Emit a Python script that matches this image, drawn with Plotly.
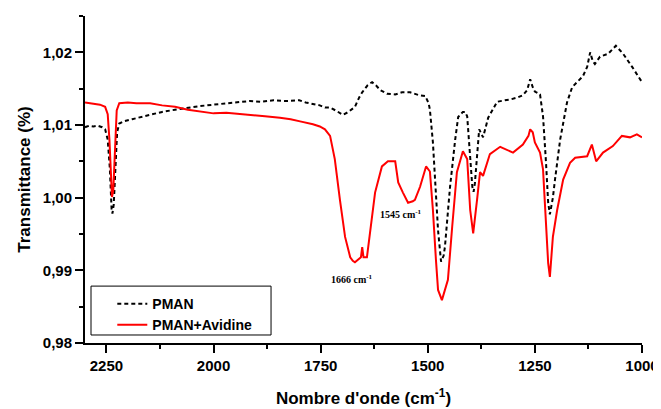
import plotly.graph_objects as go

# PMAN (black dashed)
pman_wn = [2300, 2290, 2280, 2270, 2260, 2253, 2247, 2242, 2238, 2236, 2233, 2229, 2225, 2220,
           2210, 2190, 2170, 2148, 2120, 2090, 2060, 2032, 2000, 1970, 1940, 1915, 1890, 1860,
           1830, 1800, 1785, 1770, 1752, 1740, 1728, 1715, 1698, 1685, 1670, 1660, 1653, 1640,
           1630, 1620, 1611, 1595, 1576, 1560, 1541, 1520, 1506, 1498, 1495, 1488, 1481, 1476,
           1469, 1463, 1460, 1448, 1436, 1429, 1418, 1413, 1408, 1404, 1401, 1396, 1393, 1390,
           1385, 1380, 1375, 1371, 1359, 1345, 1338, 1320, 1308, 1290, 1278, 1268, 1261, 1255,
           1250, 1238, 1231, 1224, 1219, 1215, 1208, 1203, 1191, 1175, 1163, 1150, 1138, 1128,
           1121, 1115, 1110, 1098, 1079, 1061, 1044, 1023, 1000]
pman_t = [1.0097, 1.0099, 1.0098, 1.0099, 1.0097, 1.0094, 1.0080, 1.0040, 0.9985, 0.9978, 0.9990,
          1.0045, 1.0090, 1.0102, 1.0105, 1.0108, 1.0111, 1.0114, 1.0118, 1.0121, 1.0124, 1.0126,
          1.0128, 1.0130, 1.0132, 1.0133, 1.0132, 1.0134, 1.0133, 1.0134, 1.0131, 1.0129, 1.0127,
          1.0124, 1.0124, 1.0120, 1.0114, 1.0118, 1.0125, 1.0138, 1.0145, 1.0155, 1.0159, 1.0154,
          1.0148, 1.0143, 1.0142, 1.0145, 1.0145, 1.0141, 1.0140, 1.0130, 1.0121, 1.0076, 1.0010,
          0.9955, 0.9912, 0.9920, 0.9932, 1.0015, 1.0080, 1.0111, 1.0118, 1.0118, 1.0112, 1.0080,
          1.0053, 1.0015, 1.0008, 1.0020, 1.0057, 1.0094, 1.0088, 1.0083, 1.0110, 1.0125, 1.0132,
          1.0134, 1.0135, 1.0138, 1.0141, 1.0148, 1.0163, 1.0152, 1.0146, 1.0142, 1.0112, 1.0048,
          0.9993, 0.9977, 1.0000, 1.0025, 1.0080, 1.0131, 1.0152, 1.0160, 1.0167, 1.0180, 1.0200,
          1.0188, 1.0184, 1.0194, 1.0198, 1.0209, 1.0198, 1.0180, 1.0159]

# PMAN+Avidine (red)
avid_wn = [2300, 2290, 2275, 2265, 2253, 2247, 2243, 2240, 2237, 2234, 2230, 2226, 2220, 2200,
           2180, 2148, 2120, 2090, 2060, 2032, 2000, 1970, 1940, 1915, 1880, 1845, 1820, 1798,
           1780, 1768, 1752, 1740, 1728, 1717, 1705, 1693, 1681, 1675, 1670, 1662, 1656, 1653,
           1650, 1642, 1635, 1623, 1607, 1593, 1576, 1569, 1558, 1546, 1535, 1530, 1518, 1504,
           1495, 1488, 1481, 1476, 1467, 1460, 1453, 1443, 1432, 1418, 1408, 1401, 1394, 1385,
           1378, 1371, 1355, 1331, 1301, 1278, 1265, 1261, 1255, 1250, 1238, 1231, 1224, 1219,
           1215, 1208, 1198, 1184, 1168, 1156, 1128, 1117, 1107, 1091, 1068, 1047, 1028, 1012, 1000]
avid_t = [1.0131, 1.0130, 1.0129, 1.0128, 1.0125, 1.0115, 1.0080, 1.0030, 1.0001, 1.0010, 1.0070,
          1.0120, 1.0130, 1.0131, 1.0130, 1.0130, 1.0127, 1.0125, 1.0121, 1.0119, 1.0116, 1.0117,
          1.0115, 1.0114, 1.0112, 1.0110, 1.0108, 1.0105, 1.0103, 1.0101, 1.0098, 1.0094, 1.0085,
          1.0053, 0.9997, 0.9946, 0.9918, 0.9913, 0.9911, 0.9915, 0.9918, 0.9932, 0.9918, 0.9918,
          0.9951, 1.0007, 1.0043, 1.0050, 1.0050, 1.0021, 1.0007, 0.9993, 0.9995, 0.9997, 1.0015,
          1.0043, 1.0036, 0.9983, 0.9915, 0.9873, 0.9859, 0.9873, 0.9887, 0.9960, 1.0035, 1.0064,
          1.0053, 0.9983, 0.9951, 0.9997, 1.0035, 1.0030, 1.0060, 1.0070, 1.0062, 1.0073, 1.0085,
          1.0094, 1.0090, 1.0076, 1.0062, 1.0039, 0.9966, 0.9910, 0.9891, 0.9946, 0.9983, 1.0025,
          1.0048, 1.0055, 1.0057, 1.0073, 1.0050, 1.0062, 1.0071, 1.0085, 1.0083, 1.0087, 1.0083]

x_ticks = [2250, 2000, 1750, 1500, 1250, 1000]
y_ticks = [0.98, 0.99, 1.00, 1.01, 1.02]
y_tick_text = ["0,98", "0,99", "1,00", "1,01", "1,02"]

peak_labels = ["1666 cm<sup>-1</sup>", "1545 cm<sup>-1</sup>"]
peak_x = [1677, 1562]
peak_y = [0.9888, 0.9977]

bold_sans = dict(family="Liberation Sans, Arial, sans-serif", weight="bold", color="black")

fig = go.Figure()
fig.add_trace(go.Scatter(x=pman_wn, y=pman_t, mode="lines", name="PMAN",
                         line=dict(color="black", width=2, dash="4px,3px")))
fig.add_trace(go.Scatter(x=avid_wn, y=avid_t, mode="lines", name="PMAN+Avidine",
                         line=dict(color="#ff0000", width=2)))

for t, xx, yy in zip(peak_labels, peak_x, peak_y):
    fig.add_annotation(x=xx, y=yy, text=t, showarrow=False,
                       font=dict(family="Liberation Serif, Times New Roman, serif", size=10,
                                 weight="bold", color="black"))

# legend frame
fig.add_shape(type="rect", xref="paper", yref="paper", x0=0.0108, x1=0.334, y0=0.0245, y1=0.174,
              line=dict(color="black", width=1), fillcolor="rgba(0,0,0,0)", layer="below")

# the page adds an 8px body margin, so the figure is 8px smaller and margins shifted
fig.update_layout(
    width=653, height=401,
    margin=dict(l=77, r=19, t=8, b=66, autoexpand=False),
    paper_bgcolor="white", plot_bgcolor="white",
    showlegend=True,
    legend=dict(x=0.049, y=0.168, xanchor="left", yanchor="top",
                bgcolor="rgba(0,0,0,0)", borderwidth=0,
                font=dict(size=14, **bold_sans)),
    xaxis=dict(range=[2300, 1000], tickvals=x_ticks, showgrid=False, zeroline=False,
               automargin=False,
               showline=True, linecolor="black", linewidth=2,
               ticks="outside", ticklen=8, tickwidth=2, tickcolor="black",
               minor=dict(dtick=125, ticks="outside", ticklen=4, tickwidth=2, tickcolor="black"),
               tickfont=dict(size=15, **bold_sans),
               title=dict(text="Nombre d'onde (cm<sup>-1</sup>)", font=dict(size=17, **bold_sans),
                          standoff=19)),
    yaxis=dict(range=[0.98, 1.025], tickvals=y_ticks, ticktext=y_tick_text, showgrid=False,
               automargin=False,
               zeroline=False, showline=True, linecolor="black", linewidth=2,
               ticks="outside", ticklen=8, tickwidth=2, tickcolor="black",
               minor=dict(dtick=0.005, ticks="outside", ticklen=4, tickwidth=2, tickcolor="black"),
               tickfont=dict(size=15, **bold_sans),
               title=dict(text="Transmittance (%)", font=dict(size=17, **bold_sans), standoff=8)),
)

fig.write_html("out.html")
